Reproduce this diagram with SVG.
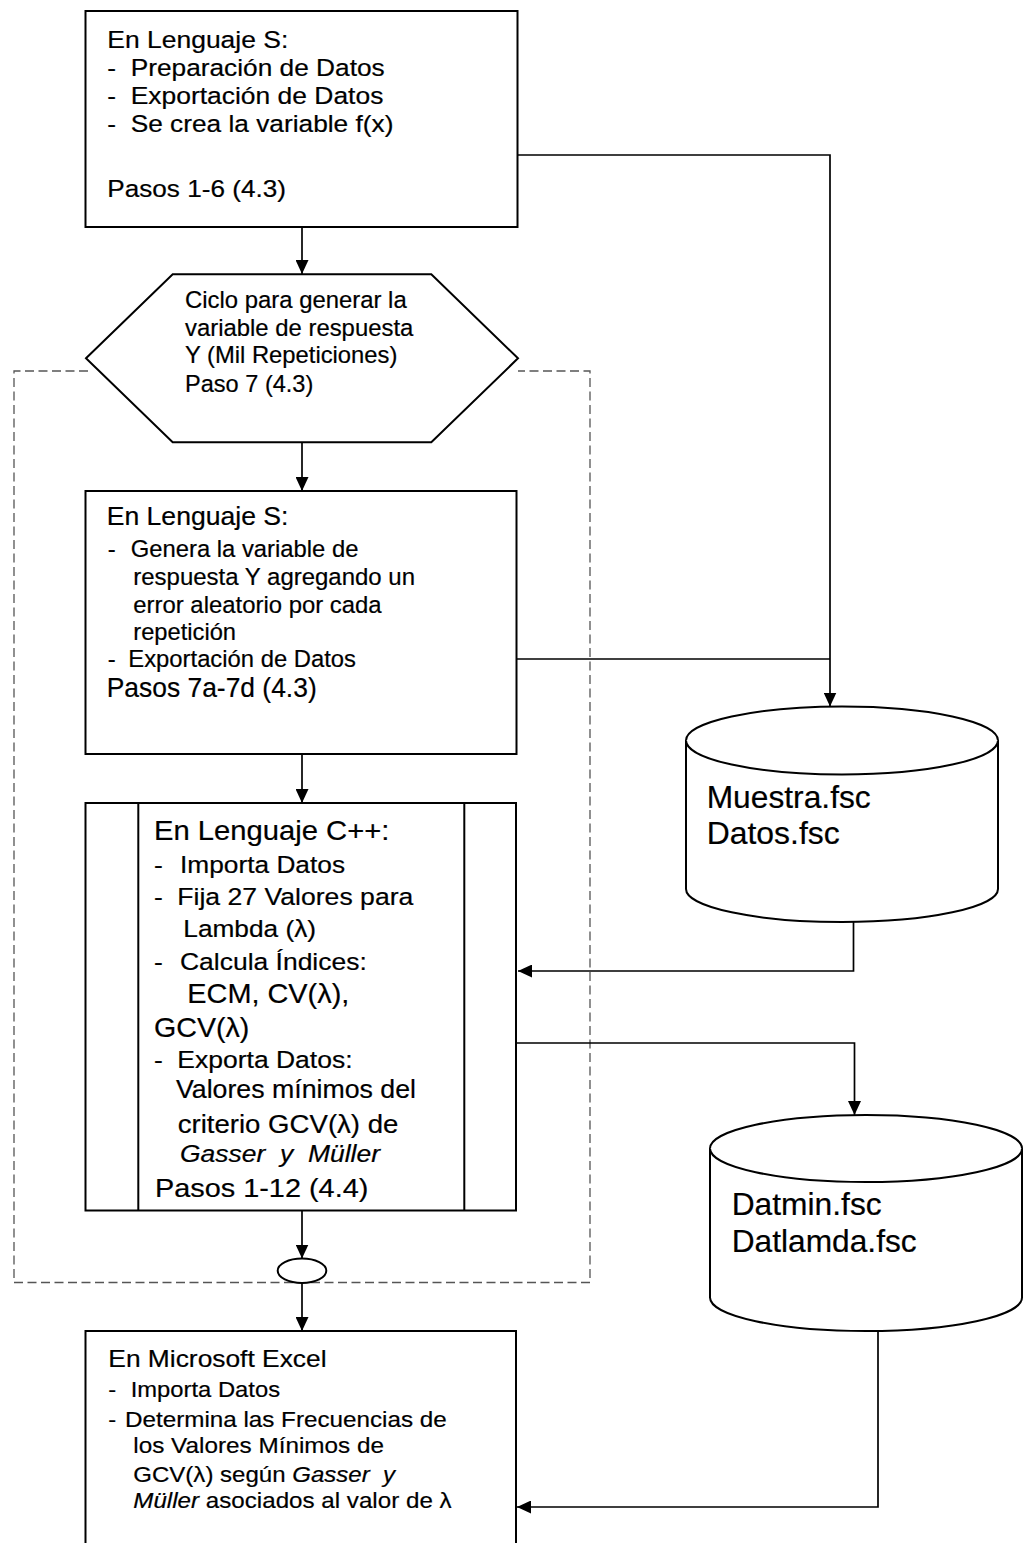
<svg xmlns="http://www.w3.org/2000/svg" width="1023" height="1543" viewBox="0 0 1023 1543">
  <style>
    .box { fill: #ffffff; stroke: #000000; stroke-width: 2; }
    .conn { fill: none; stroke: #000000; stroke-width: 1.7; }
    .loop { fill: none; stroke: #555555; stroke-width: 1.3; stroke-dasharray: 9 4.5; }
    text { font-family: "Liberation Sans", Arial, Helvetica, sans-serif; fill: #000000; stroke: #000000; stroke-width: 0.2; }
    .s22 { font-size: 22px; }
    .s23 { font-size: 23.5px; }
    .s25 { font-size: 25px; }
    .s255 { font-size: 25.5px; }
    .s27 { font-size: 27.5px; }
    .s28 { font-size: 28px; }
    .s32 { font-size: 32px; }
    .it { font-style: italic; }
  </style>
  <defs>
    <marker id="arrow" markerUnits="userSpaceOnUse" markerWidth="14" markerHeight="13" refX="14" refY="6.5" orient="auto">
      <path d="M0,0 L14,6.5 L0,13 Z" fill="#000000"/>
    </marker>
  </defs>

  <rect width="1023" height="1543" fill="#ffffff"/>

  <!-- repetition loop boundary -->
  <path id="loop-frame" class="loop" d="M88,371 H14 V1282.5 H590 V371 H518"/>

  <!-- connectors -->
  <g id="connectors">
    <path class="conn" d="M302,227 V274" marker-end="url(#arrow)"/>
    <path class="conn" d="M302,442.5 V491" marker-end="url(#arrow)"/>
    <path class="conn" d="M302,754 V803" marker-end="url(#arrow)"/>
    <path class="conn" d="M302,1210.5 V1258.5" marker-end="url(#arrow)"/>
    <path class="conn" d="M302,1283 V1331" marker-end="url(#arrow)"/>
    <path class="conn" d="M517,155 H830 V706.5" marker-end="url(#arrow)"/>
    <path class="conn" d="M517,659 H830"/>
    <path class="conn" d="M853.5,922 V971 H518" marker-end="url(#arrow)"/>
    <path class="conn" d="M516,1043 H854.5 V1115" marker-end="url(#arrow)"/>
    <path class="conn" d="M878,1331 V1507 H517" marker-end="url(#arrow)"/>
  </g>

  <!-- step 1: data preparation in S -->
  <g id="node-prep">
    <rect class="box" x="85.5" y="11" width="432" height="216"/>
    <text class="s23" transform="translate(107.3 47.7) scale(1.116 1)" textLength="162.2" lengthAdjust="spacingAndGlyphs">En Lenguaje S:</text>
    <text class="s23" transform="translate(107.3 76) scale(1.116 1)">-</text>
    <text class="s23" transform="translate(130.7 76) scale(1.116 1)" textLength="227.6" lengthAdjust="spacingAndGlyphs">Preparación de Datos</text>
    <text class="s23" transform="translate(107.3 104) scale(1.116 1)">-</text>
    <text class="s23" transform="translate(130.7 104) scale(1.116 1)" textLength="226.4" lengthAdjust="spacingAndGlyphs">Exportación de Datos</text>
    <text class="s23" transform="translate(107.3 131.7) scale(1.116 1)">-</text>
    <text class="s23" transform="translate(130.7 131.7) scale(1.116 1)" textLength="235.4" lengthAdjust="spacingAndGlyphs">Se crea la variable f(x)</text>
    <text class="s23" transform="translate(107.3 196.7) scale(1.116 1)" textLength="160.1" lengthAdjust="spacingAndGlyphs">Pasos 1-6 (4.3)</text>
  </g>

  <!-- loop header -->
  <g id="node-loop">
    <polygon class="box" points="86,358.3 172.7,274.3 431.3,274.3 518,358.3 431.3,442.3 172.7,442.3"/>
    <text class="s23" transform="translate(185 308.3) scale(1.016 1)" textLength="218.2" lengthAdjust="spacingAndGlyphs">Ciclo para generar la</text>
    <text class="s23" transform="translate(185 335.5) scale(1.016 1)" textLength="224.7" lengthAdjust="spacingAndGlyphs">variable de respuesta</text>
    <text class="s23" transform="translate(185 363.3) scale(1.016 1)" textLength="209" lengthAdjust="spacingAndGlyphs">Y (Mil Repeticiones)</text>
    <text class="s23" transform="translate(185 391.7) scale(1.016 1)" textLength="126.3" lengthAdjust="spacingAndGlyphs">Paso 7 (4.3)</text>
  </g>

  <!-- step 2: response generation in S -->
  <g id="node-response">
    <rect class="box" x="85.5" y="491" width="431" height="263"/>
    <text class="s255" transform="translate(106.7 525) scale(1.04 1)" textLength="174.7" lengthAdjust="spacingAndGlyphs">En Lenguaje S:</text>
    <text class="s23" transform="translate(107.7 556.7) scale(1.016 1)">-</text>
    <text class="s23" transform="translate(130.7 556.7) scale(1.016 1)" textLength="224.1" lengthAdjust="spacingAndGlyphs">Genera la variable de</text>
    <text class="s23" transform="translate(133.3 585) scale(1.016 1)" textLength="277.3" lengthAdjust="spacingAndGlyphs">respuesta Y agregando un</text>
    <text class="s23" transform="translate(133.3 612.7) scale(1.016 1)" textLength="244.4" lengthAdjust="spacingAndGlyphs">error aleatorio por cada</text>
    <text class="s23" transform="translate(133.3 640) scale(1.016 1)" textLength="101.1" lengthAdjust="spacingAndGlyphs">repetición</text>
    <text class="s23" transform="translate(107.7 666.7) scale(1.016 1)">-</text>
    <text class="s23" transform="translate(128.3 666.7) scale(1.016 1)" textLength="224.1" lengthAdjust="spacingAndGlyphs">Exportación de Datos</text>
    <text class="s28" x="106.7" y="696.7" textLength="210" lengthAdjust="spacingAndGlyphs">Pasos 7a-7d (4.3)</text>
  </g>

  <!-- step 3: C++ predefined process -->
  <g id="node-cpp">
    <rect class="box" x="85.5" y="803" width="430.5" height="407.5"/>
    <line class="box" x1="138.3" y1="803" x2="138.3" y2="1210.5"/>
    <line class="box" x1="464.3" y1="803" x2="464.3" y2="1210.5"/>
    <text class="s27" transform="translate(154 840) scale(1.062 1)" textLength="221.6" lengthAdjust="spacingAndGlyphs">En Lenguaje C++:</text>
    <text class="s23" transform="translate(154 873.3) scale(1.125 1)">-</text>
    <text class="s23" transform="translate(180 873.3) scale(1.125 1)" textLength="146.7" lengthAdjust="spacingAndGlyphs">Importa Datos</text>
    <text class="s23" transform="translate(154 905) scale(1.125 1)">-</text>
    <text class="s23" transform="translate(177.3 905) scale(1.125 1)" textLength="209.8" lengthAdjust="spacingAndGlyphs">Fija 27 Valores para</text>
    <text class="s23" transform="translate(183.3 936.7) scale(1.125 1)" textLength="118" lengthAdjust="spacingAndGlyphs">Lambda (λ)</text>
    <text class="s23" transform="translate(154 970) scale(1.125 1)">-</text>
    <text class="s23" transform="translate(180 970) scale(1.125 1)" textLength="166" lengthAdjust="spacingAndGlyphs">Calcula Índices:</text>
    <text class="s27" transform="translate(187.3 1003.3) scale(1.048 1)" textLength="154.6" lengthAdjust="spacingAndGlyphs">ECM, CV(λ),</text>
    <text class="s27" transform="translate(154 1036.7) scale(1.038 1)" textLength="91.8" lengthAdjust="spacingAndGlyphs">GCV(λ)</text>
    <text class="s23" transform="translate(154 1068.3) scale(1.125 1)">-</text>
    <text class="s23" transform="translate(177.3 1068.3) scale(1.125 1)" textLength="155.8" lengthAdjust="spacingAndGlyphs">Exporta Datos:</text>
    <text class="s25" transform="translate(176 1098.3) scale(1.058 1)" textLength="226.8" lengthAdjust="spacingAndGlyphs">Valores mínimos del</text>
    <text class="s25" transform="translate(177.7 1133.3) scale(1.104 1)" textLength="199.9" lengthAdjust="spacingAndGlyphs">criterio GCV(λ) de</text>
    <text class="s23 it" transform="translate(180 1161.7) scale(1.125 1)" textLength="177.8" lengthAdjust="spacingAndGlyphs" xml:space="preserve">Gasser  y  Müller</text>
    <text class="s255" transform="translate(155 1196.7) scale(1.134 1)" textLength="188.1" lengthAdjust="spacingAndGlyphs">Pasos 1-12 (4.4)</text>
  </g>

  <!-- loop end connector -->
  <g id="node-loop-end">
    <ellipse class="box" cx="302" cy="1270.7" rx="24.3" ry="12.2"/>
  </g>

  <!-- step 4: Excel summary (continues below the page edge) -->
  <g id="node-excel">
    <rect class="box" x="85.5" y="1331" width="430.5" height="240"/>
    <text class="s23" transform="translate(108.3 1366.7) scale(1.125 1)" textLength="194" lengthAdjust="spacingAndGlyphs">En Microsoft Excel</text>
    <text class="s22" transform="translate(108.3 1396.7) scale(1.082 1)">-</text>
    <text class="s22" transform="translate(130.7 1396.7) scale(1.082 1)" textLength="138" lengthAdjust="spacingAndGlyphs">Importa Datos</text>
    <text class="s22" transform="translate(108.3 1426.7) scale(1.082 1)">-</text>
    <text class="s22" transform="translate(125 1426.7) scale(1.082 1)" textLength="297.3" lengthAdjust="spacingAndGlyphs">Determina las Frecuencias de</text>
    <text class="s22" transform="translate(133.3 1453.3) scale(1.082 1)" textLength="231.7" lengthAdjust="spacingAndGlyphs">los Valores Mínimos de</text>
    <text class="s22" transform="translate(133.3 1481.7) scale(1.082 1)" textLength="241.9" lengthAdjust="spacingAndGlyphs" xml:space="preserve">GCV(λ) según <tspan class="it">Gasser  y</tspan></text>
    <text class="s22" transform="translate(133.3 1508.3) scale(1.082 1)" textLength="294.2" lengthAdjust="spacingAndGlyphs" xml:space="preserve"><tspan class="it">Müller</tspan> asociados al valor de λ</text>
  </g>

  <!-- data file: sample -->
  <g id="node-muestra">
    <path class="box" d="M686,740.5 A156,34 0 0 1 998,740.5 V889 A156,33 0 0 1 686,889 Z"/>
    <path class="box" d="M686,740.5 A156,34 0 0 0 998,740.5"/>
    <text class="s32" x="706.7" y="807.7" textLength="164" lengthAdjust="spacingAndGlyphs">Muestra.fsc</text>
    <text class="s32" x="706.7" y="844.3" textLength="133" lengthAdjust="spacingAndGlyphs">Datos.fsc</text>
  </g>

  <!-- data file: minima -->
  <g id="node-datmin">
    <path class="box" d="M710,1148.5 A156,33.5 0 0 1 1022,1148.5 V1297.5 A156,33.5 0 0 1 710,1297.5 Z"/>
    <path class="box" d="M710,1148.5 A156,33.5 0 0 0 1022,1148.5"/>
    <text class="s32" x="731.7" y="1215" textLength="150" lengthAdjust="spacingAndGlyphs">Datmin.fsc</text>
    <text class="s32" x="731.7" y="1251.7" textLength="185" lengthAdjust="spacingAndGlyphs">Datlamda.fsc</text>
  </g>
</svg>
